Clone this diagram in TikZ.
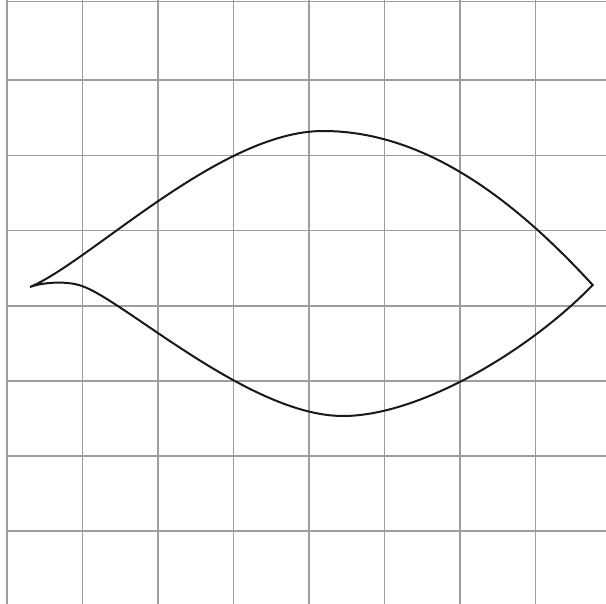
\documentclass[tikz,border=0pt]{standalone}
\begin{document}
\begin{tikzpicture}[x=1pt,y=-1pt,
  gridline/.style={draw=black!38,line width=1.3pt},
  outline/.style={draw=black!90,line width=2pt,line join=miter}]
\useasboundingbox (0,0) rectangle (606,604);
\fill[white] (0,0) rectangle (606,604);
\foreach \x in {7,82.5,158,233.5,309,384.5,460,535.5}
  \draw[gridline] (\x,0) -- (\x,604);
\foreach \y in {1.3,80,155.3,230.6,306,381,456,531}
  \draw[gridline] (7,\y) -- (606,\y);
\coordinate (tipL) at (30,287);
\coordinate (top) at (323,131);
\coordinate (tipR) at (592.7,285);
\coordinate (hook) at (82,286);
\coordinate (bottom) at (343,416);
\draw[outline] (tipL) .. controls (90,262) and (220,131) .. (top)
  .. controls (430,131) and (521,207) .. (tipR)
  .. controls (530,350) and (420,416) .. (bottom)
  .. controls (250,416) and (125,301) .. (hook)
  .. controls (65,280) and (40,283) .. (tipL);
\end{tikzpicture}
\end{document}
